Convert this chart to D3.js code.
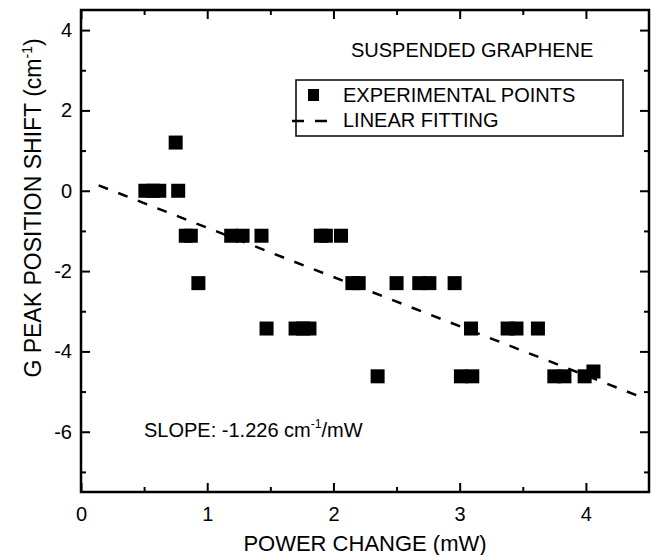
<!DOCTYPE html>
<html>
<head>
<meta charset="utf-8">
<script src="https://cdnjs.cloudflare.com/ajax/libs/d3/7.8.5/d3.min.js"></script>
<style>
body{margin:0;background:#fff;}
svg text{font-family:"Liberation Sans",Arial,sans-serif;fill:#000;}
.tick line{stroke:#000;stroke-width:2;}
.tick text{font-size:20px;}
</style>
</head>
<body>
<svg id="chart"></svg>
<script>
// experimental points (power change mW, G peak shift cm-1)
var pointX = [0.51,0.57,0.62,0.77,0.75,
              0.83,0.87,1.19,1.28,1.43,1.90,1.94,2.06,
              0.93,2.15,2.20,2.50,2.68,2.76,2.96,
              1.47,1.70,1.76,1.81,3.09,3.38,3.45,3.62,
              2.35,3.01,3.10,3.75,3.83,3.99,4.06]
var pointY = [0,0,0,0,1.2,
              -1.12,-1.12,-1.12,-1.12,-1.12,-1.12,-1.12,-1.12,
              -2.3,-2.3,-2.3,-2.3,-2.3,-2.3,-2.3,
              -3.43,-3.43,-3.43,-3.43,-3.43,-3.43,-3.43,-3.43,
              -4.62,-4.62,-4.62,-4.62,-4.62,-4.62,-4.5]
// linear fit
var fitSlope = -1.226
var fitIntercept = 0.305
var fitRange = [0.14,4.42]

var xMajor = [0,1,2,3,4]
var xMinor = [0.5,1.5,2.5,3.5]
var yMajor = [-6,-4,-2,0,2,4]
var yMinor = [-7,-5,-3,-1,1,3]

var screen = {width:654,height:555}
var margins = {left:81,right:5,top:10,bottom:63}
var graph = {
    width:screen.width-margins.left-margins.right,
    height:screen.height-margins.top-margins.bottom
}

var svg = d3.select("#chart")
    .attr("width",screen.width)
    .attr("height",screen.height)

var xScale = d3.scaleLinear()
    .domain([0,4.5])
    .range([0,graph.width])
var yScale = d3.scaleLinear()
    .domain([-7.5,4.5])
    .range([graph.height,0])

var target = svg.append("g")
    .attr("transform","translate("+margins.left+","+margins.top+")")

var plain = function(d){return String(d);}

var drawAxes = function()
{
    var bottom = target.append("g")
        .attr("transform","translate(0,"+graph.height+")")
    bottom.append("g").call(d3.axisBottom(xScale).tickValues(xMajor)
        .tickSize(-9).tickPadding(15).tickFormat(plain))
    bottom.append("g").call(d3.axisBottom(xScale).tickValues(xMinor)
        .tickSize(-5).tickFormat(""))

    var left = target.append("g")
    left.append("g").call(d3.axisLeft(yScale).tickValues(yMajor)
        .tickSize(-9).tickPadding(9).tickFormat(plain))
    left.append("g").call(d3.axisLeft(yScale).tickValues(yMinor)
        .tickSize(-5).tickFormat(""))

    var top = target.append("g")
    top.append("g").call(d3.axisTop(xScale).tickValues(xMajor)
        .tickSize(-9).tickFormat(""))
    top.append("g").call(d3.axisTop(xScale).tickValues(xMinor)
        .tickSize(-5).tickFormat(""))

    var right = target.append("g")
        .attr("transform","translate("+graph.width+",0)")
    right.append("g").call(d3.axisRight(yScale).tickValues(yMajor)
        .tickSize(-9).tickFormat(""))
    right.append("g").call(d3.axisRight(yScale).tickValues(yMinor)
        .tickSize(-5).tickFormat(""))

    target.selectAll(".domain").remove()

    target.append("rect")
        .attr("x",0)
        .attr("y",0)
        .attr("width",graph.width)
        .attr("height",graph.height)
        .attr("fill","none")
        .attr("stroke","#000")
        .attr("stroke-width",2.5)
}

var drawPoints = function()
{
    var size = 14
    target.append("g")
        .selectAll("rect")
        .data(pointX)
        .enter()
        .append("rect")
        .attr("x",function(d){return xScale(d)-size/2;})
        .attr("y",function(d,i){return yScale(pointY[i])-size/2;})
        .attr("width",size)
        .attr("height",size)
        .attr("fill","#000")
}

var drawFit = function()
{
    var line = d3.line()
        .x(function(d){return xScale(d);})
        .y(function(d){return yScale(fitIntercept+fitSlope*d);})
    target.append("path")
        .datum(fitRange)
        .attr("d",line)
        .attr("fill","none")
        .attr("stroke","#000")
        .attr("stroke-width",2.5)
        .attr("stroke-dasharray","10,11")
}

var drawLabels = function()
{
    svg.append("text")
        .text("POWER CHANGE (mW)")
        .attr("text-anchor","middle")
        .attr("font-size",22)
        .attr("x",margins.left+graph.width/2)
        .attr("y",551)

    var ylab = svg.append("text")
        .attr("text-anchor","middle")
        .attr("font-size",23)
        .attr("transform","translate(41,208) rotate(-90)")
    ylab.append("tspan").text("G PEAK POSITION SHIFT (cm")
    ylab.append("tspan").text("-1").attr("font-size",14).attr("dy",-9)
    ylab.append("tspan").text(")").attr("dy",9)

    svg.append("text")
        .text("SUSPENDED GRAPHENE")
        .attr("font-size",20)
        .attr("x",351)
        .attr("y",57)

    var slope = svg.append("text")
        .attr("font-size",20)
        .attr("x",144)
        .attr("y",437)
    slope.append("tspan").text("SLOPE: -1.226 cm")
    slope.append("tspan").text("-1").attr("font-size",12).attr("dy",-9)
    slope.append("tspan").text("/mW").attr("dy",9)
}

var drawLegend = function()
{
    var legend = svg.append("g")
        .classed("legend",true)
    legend.append("rect")
        .attr("x",296)
        .attr("y",80)
        .attr("width",327)
        .attr("height",56)
        .attr("fill","#fff")
        .attr("stroke","#000")
        .attr("stroke-width",1.5)
    legend.append("rect")
        .attr("x",308)
        .attr("y",89)
        .attr("width",11)
        .attr("height",12)
        .attr("fill","#000")
    legend.append("text")
        .text("EXPERIMENTAL POINTS")
        .attr("font-size",20)
        .attr("x",343)
        .attr("y",102)
    legend.append("line")
        .attr("x1",292)
        .attr("x2",336)
        .attr("y1",121)
        .attr("y2",121)
        .attr("stroke","#000")
        .attr("stroke-width",2.5)
        .attr("stroke-dasharray","12,11")
    legend.append("text")
        .text("LINEAR FITTING")
        .attr("font-size",20)
        .attr("x",343)
        .attr("y",127)
}

drawAxes()
drawFit()
drawPoints()
drawLegend()
drawLabels()
</script>
</body>
</html>
